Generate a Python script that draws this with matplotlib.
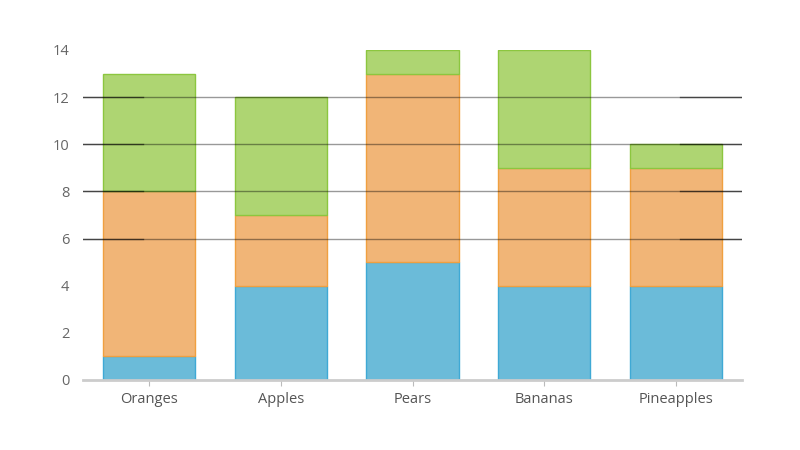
import matplotlib
matplotlib.use("Agg")
import matplotlib.pyplot as plt

categories = ["Oranges", "Apples", "Pears", "Bananas", "Pineapples"]
blue_vals = [1, 4, 5, 4, 4]
orange_vals = [7, 3, 8, 5, 5]
green_vals = [5, 5, 1, 5, 1]
yticks = [0, 2, 4, 6, 8, 10, 12, 14]
grid_at = [6, 8, 10, 12]

plt.rcParams["font.family"] = ["Open Sans", "DejaVu Sans"]

fig = plt.figure(figsize=(8, 4.5), dpi=100)
ax = fig.add_axes([0.104, 0.1556, 0.8235, 0.7333])

xs = list(range(len(categories)))
w = 0.70
b1 = blue_vals
b2 = [a + b for a, b in zip(blue_vals, orange_vals)]
ax.bar(xs, blue_vals, w, color="#6bbbd9", edgecolor="#3fa9d5", lw=1, zorder=2)
ax.bar(xs, orange_vals, w, bottom=b1, color="#f1b577", edgecolor="#f0a040", lw=1, zorder=2)
ax.bar(xs, green_vals, w, bottom=b2, color="#aed572", edgecolor="#8cc63f", lw=1, zorder=2)

# gridlines drawn over the bars, with darker end segments
for g in grid_at:
    ax.axhline(g, color="black", alpha=0.4, lw=1, zorder=3)
    ax.plot([0, 0.091], [g, g], transform=ax.get_yaxis_transform(), color="black", alpha=0.55, lw=1, zorder=4)
    ax.plot([0.906, 1], [g, g], transform=ax.get_yaxis_transform(), color="black", alpha=0.55, lw=1, zorder=4)

ax.set_xlim(-0.5, len(categories) - 0.5)
ax.set_ylim(0, 14)
ax.set_yticks(yticks)
ax.set_xticks(xs)
ax.set_xticklabels(categories)
for s in ["top", "right", "left"]:
    ax.spines[s].set_visible(False)
ax.spines["bottom"].set_color("#cccccc")
ax.spines["bottom"].set_linewidth(2)
ax.spines["bottom"].set_zorder(5)
ax.tick_params(axis="y", length=0, pad=10, labelsize=10.5, labelcolor="#666666")
ax.tick_params(axis="x", length=4, color="#bbbbbb", pad=5, labelsize=10.5, labelcolor="#555555")

fig.savefig("out.png", dpi=100)
